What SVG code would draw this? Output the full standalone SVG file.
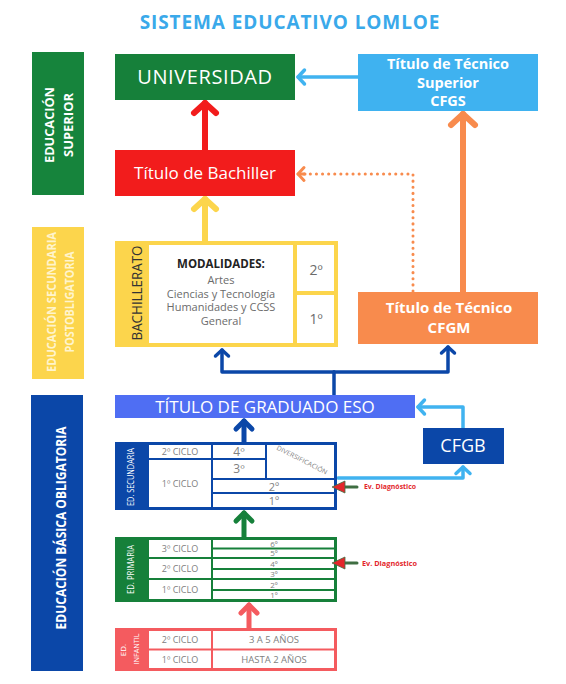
<svg xmlns="http://www.w3.org/2000/svg" width="566" height="684" viewBox="0 0 566 684">
<style>
text { font-family: "Open Sans", "Liberation Sans", Arial, sans-serif; }
.c { text-anchor: middle; }
.b { font-weight: bold; }
.w { fill: #ffffff; }
.gr { fill: #808080; }
.cell { fill: #ffffff; }
.ln { fill: none; stroke-linecap: round; stroke-linejoin: round; }
.ev { fill: #e3262b; font-weight: bold; font-size: 6.5px; }
</style>
<defs>
<marker id="hRed" markerUnits="userSpaceOnUse" markerWidth="40" markerHeight="40" viewBox="-20 -20 40 40" refX="0" refY="0" orient="auto"><path d="M-10,-11 L0,0 L-10,11" fill="none" stroke="#f21c1c" stroke-width="6" stroke-linecap="round" stroke-linejoin="round"/></marker>
<marker id="hYel" markerUnits="userSpaceOnUse" markerWidth="40" markerHeight="40" viewBox="-20 -20 40 40" refX="0" refY="0" orient="auto"><path d="M-10,-11 L0,0 L-10,11" fill="none" stroke="#fcd54c" stroke-width="6" stroke-linecap="round" stroke-linejoin="round"/></marker>
<marker id="hOra" markerUnits="userSpaceOnUse" markerWidth="40" markerHeight="40" viewBox="-20 -20 40 40" refX="0" refY="0" orient="auto"><path d="M-11,-12 L0,0 L-11,12" fill="none" stroke="#f88b4d" stroke-width="6" stroke-linecap="round" stroke-linejoin="round"/></marker>
<marker id="hOraS" markerUnits="userSpaceOnUse" markerWidth="40" markerHeight="40" viewBox="-20 -20 40 40" refX="0" refY="0" orient="auto"><path d="M-6,-6.5 L0,0 L-6,6.5" fill="none" stroke="#f88b4d" stroke-width="3" stroke-linecap="round" stroke-linejoin="round"/></marker>
<marker id="hGrn" markerUnits="userSpaceOnUse" markerWidth="40" markerHeight="40" viewBox="-20 -20 40 40" refX="0" refY="0" orient="auto"><path d="M-8,-8 L0,0 L-8,8" fill="none" stroke="#16803a" stroke-width="5" stroke-linecap="round" stroke-linejoin="round"/></marker>
<marker id="hSal" markerUnits="userSpaceOnUse" markerWidth="40" markerHeight="40" viewBox="-20 -20 40 40" refX="0" refY="0" orient="auto"><path d="M-8,-8 L0,0 L-8,8" fill="none" stroke="#f45b5f" stroke-width="5" stroke-linecap="round" stroke-linejoin="round"/></marker>
<marker id="hBluM" markerUnits="userSpaceOnUse" markerWidth="40" markerHeight="40" viewBox="-20 -20 40 40" refX="0" refY="0" orient="auto"><path d="M-8,-8 L0,0 L-8,8" fill="none" stroke="#0b47a8" stroke-width="5" stroke-linecap="round" stroke-linejoin="round"/></marker>
<marker id="hBlu" markerUnits="userSpaceOnUse" markerWidth="40" markerHeight="40" viewBox="-20 -20 40 40" refX="0" refY="0" orient="auto"><path d="M-6,-6.5 L0,0 L-6,6.5" fill="none" stroke="#0b47a8" stroke-width="3.5" stroke-linecap="round" stroke-linejoin="round"/></marker>
<marker id="hLb" markerUnits="userSpaceOnUse" markerWidth="40" markerHeight="40" viewBox="-20 -20 40 40" refX="0" refY="0" orient="auto"><path d="M-6.5,-7 L0,0 L-6.5,7" fill="none" stroke="#40b3f0" stroke-width="3.5" stroke-linecap="round" stroke-linejoin="round"/></marker>
</defs>
<rect width="566" height="684" fill="#ffffff"/>

<text x="290" y="29" class="c b" font-size="19" letter-spacing="0.9" fill="#3aa9ea">SISTEMA EDUCATIVO LOMLOE</text>

<g id="band-superior">
<rect x="32" y="52" width="52" height="143" fill="#16843c"/>
<text transform="translate(54,125) rotate(-90)" class="c b w" font-size="13" textLength="76" lengthAdjust="spacingAndGlyphs">EDUCACIÓN</text>
<text transform="translate(73,125) rotate(-90)" class="c b w" font-size="13" textLength="64" lengthAdjust="spacingAndGlyphs">SUPERIOR</text>
</g>
<g id="band-postobligatoria">
<rect x="32" y="227" width="52" height="152" fill="#fcd54c"/>
<text transform="translate(56,302) rotate(-90)" class="c b" fill="#fff4cc" font-size="11.5" textLength="140" lengthAdjust="spacingAndGlyphs">EDUCACIÓN SECUNDARIA</text>
<text transform="translate(74,302) rotate(-90)" class="c b" fill="#fff4cc" font-size="11.5" textLength="101" lengthAdjust="spacingAndGlyphs">POSTOBLIGATORIA</text>
</g>
<g id="band-basica">
<rect x="31" y="395" width="52" height="276" fill="#0b47a8"/>
<text transform="translate(66,528) rotate(-90)" class="c b w" font-size="14" textLength="203" lengthAdjust="spacingAndGlyphs">EDUCACIÓN BÁSICA OBLIGATORIA</text>
</g>

<g id="connectors">
<path class="ln" d="M205,150 L205,103" stroke="#f21c1c" stroke-width="6" marker-end="url(#hRed)"/>
<path class="ln" d="M205,241 L205,199" stroke="#fcd54c" stroke-width="6" marker-end="url(#hYel)"/>
<path class="ln" d="M463,292 L463,114" stroke="#f88b4d" stroke-width="6" marker-end="url(#hOra)"/>
<path class="ln" d="M413,291 L413,174 L299,174" stroke="#f88b4d" stroke-width="3" stroke-dasharray="0.1 6"/>
<path class="ln" d="M305,174 L298,174" stroke="#f88b4d" stroke-width="3" marker-end="url(#hOraS)"/>
<path class="ln" d="M358,77 L298,77" stroke="#40b3f0" stroke-width="3.5" marker-end="url(#hLb)"/>
<path class="ln" d="M334,395 L334,372" stroke="#0b47a8" stroke-width="3.5"/>
<path class="ln" d="M334,372 L222,372 L222,350" stroke="#0b47a8" stroke-width="3.5" marker-end="url(#hBlu)"/>
<path class="ln" d="M334,372 L448,372 L448,347" stroke="#0b47a8" stroke-width="3.5" marker-end="url(#hBlu)"/>
<path class="ln" d="M244,442 L244,421" stroke="#0b47a8" stroke-width="5" marker-end="url(#hBluM)"/>
<path class="ln" d="M244,537 L244,513" stroke="#16803a" stroke-width="5" marker-end="url(#hGrn)"/>
<path class="ln" d="M249,628 L249,605" stroke="#f45b5f" stroke-width="5" marker-end="url(#hSal)"/>
<path class="ln" d="M463,428 L463,407 L418,407" stroke="#40b3f0" stroke-width="3.5" marker-end="url(#hLb)"/>
<path class="ln" d="M338,478 L463,478 L463,467" stroke="#40b3f0" stroke-width="3.5" marker-end="url(#hLb)"/>
</g>

<g id="universidad">
<rect x="115" y="54" width="180" height="46" fill="#16803a"/>
<text x="205" y="84" class="c w" font-size="20" letter-spacing="0.6">UNIVERSIDAD</text>
</g>
<g id="cfgs">
<rect x="358" y="54" width="180" height="57" fill="#3fb2f0"/>
<text x="448" y="69" class="c b w" font-size="14.5">Título de Técnico</text>
<text x="448" y="88" class="c b w" font-size="14.5">Superior</text>
<text x="448" y="106" class="c b w" font-size="14.5">CFGS</text>
</g>
<g id="bachiller">
<rect x="115" y="150" width="180" height="46" fill="#f21c1c"/>
<text x="205" y="179" class="c w" font-size="17">Título de Bachiller</text>
</g>
<g id="bachillerato">
<rect x="115" y="241" width="223" height="106" fill="#fcd54c"/>
<rect class="cell" x="149" y="245" width="144" height="98"/>
<rect class="cell" x="297" y="245" width="37" height="46"/>
<rect class="cell" x="297" y="295" width="37" height="48"/>
<text transform="translate(142,293) rotate(-90)" class="c" fill="#333333" font-size="15" textLength="95" lengthAdjust="spacingAndGlyphs">BACHILLERATO</text>
<text x="221" y="268" class="c b" fill="#222222" font-size="11.5">MODALIDADES:</text>
<text x="221" y="284" class="c" fill="#6b6b6b" font-size="11">Artes</text>
<text x="221" y="297.5" class="c" fill="#6b6b6b" font-size="11">Ciencias y Tecnología</text>
<text x="221" y="311" class="c" fill="#6b6b6b" font-size="11">Humanidades y CCSS</text>
<text x="221" y="324.5" class="c" fill="#6b6b6b" font-size="11">General</text>
<text x="316" y="275" class="c" fill="#6b6b6b" font-size="14">2º</text>
<text x="316" y="324" class="c" fill="#6b6b6b" font-size="14">1º</text>
</g>
<g id="cfgm">
<rect x="358" y="292" width="180" height="52" fill="#f88b4d"/>
<text x="449" y="313" class="c b w" font-size="15">Título de Técnico</text>
<text x="449" y="333" class="c b w" font-size="15">CFGM</text>
</g>
<g id="graduado-eso">
<rect x="115" y="395" width="300" height="23" fill="#4f6ef3"/>
<text x="265" y="412.5" class="c w" font-size="17">TÍTULO DE GRADUADO ESO</text>
</g>
<g id="cfgb">
<rect x="423" y="428" width="81" height="36" fill="#0b47a8"/>
<text x="463" y="452" class="c w" font-size="18">CFGB</text>
</g>

<g id="ed-secundaria">
<rect x="115" y="442" width="222" height="68" fill="#0b47a8"/>
<rect class="cell" x="149" y="445" width="62" height="13"/>
<rect class="cell" x="149" y="460" width="62" height="47"/>
<rect class="cell" x="213" y="445" width="52" height="13"/>
<rect class="cell" x="213" y="460" width="52" height="18"/>
<rect class="cell" x="267" y="445" width="67" height="33"/>
<rect class="cell" x="213" y="480" width="121" height="12"/>
<rect class="cell" x="213" y="494" width="121" height="13"/>
<text transform="translate(134,477) rotate(-90)" class="c w" font-size="9" textLength="58" lengthAdjust="spacingAndGlyphs">ED. SECUNDARIA</text>
<text x="180" y="454.5" class="c gr" font-size="9">2º CICLO</text>
<text x="180" y="487" class="c gr" font-size="9">1º CICLO</text>
<text x="239" y="455.5" class="c gr" font-size="12">4º</text>
<text x="239" y="473" class="c gr" font-size="12">3º</text>
<text transform="translate(301,462) rotate(27)" class="c gr" font-size="6.5" textLength="56" lengthAdjust="spacingAndGlyphs">DIVERSIFICACIÓN</text>
<text x="274" y="490.5" class="c gr" font-size="11">2º</text>
<text x="274" y="504.5" class="c gr" font-size="11">1º</text>
</g>
<g id="ev-diagnostico-secundaria">
<path d="M343,487 L357,487" stroke="#3f6e42" stroke-width="3" stroke-linecap="round"/>
<path d="M332,487 L345,481 L345,493 Z" fill="#e3262b" stroke="#3f6e42" stroke-width="0.8"/>
<text x="364" y="489" class="ev" textLength="52" lengthAdjust="spacingAndGlyphs">Ev. Diagnóstico</text>
</g>

<g id="ed-primaria">
<rect x="115" y="537" width="222" height="65" fill="#16803a"/>
<rect class="cell" x="149" y="540" width="62" height="17"/>
<rect class="cell" x="149" y="559" width="62" height="19"/>
<rect class="cell" x="149" y="580" width="62" height="19"/>
<rect class="cell" x="213" y="540" width="121" height="7.5"/>
<rect class="cell" x="213" y="549.5" width="121" height="7.5"/>
<rect class="cell" x="213" y="559" width="121" height="9"/>
<rect class="cell" x="213" y="570" width="121" height="8"/>
<rect class="cell" x="213" y="580" width="121" height="9"/>
<rect class="cell" x="213" y="591" width="121" height="8"/>
<text transform="translate(134,569.5) rotate(-90)" class="c w" font-size="9" textLength="49" lengthAdjust="spacingAndGlyphs">ED. PRIMARIA</text>
<text x="180" y="551.5" class="c gr" font-size="9">3º CICLO</text>
<text x="180" y="571.5" class="c gr" font-size="9">2º CICLO</text>
<text x="180" y="592.5" class="c gr" font-size="9">1º CICLO</text>
<text x="274" y="546.5" class="c gr" font-size="8">6º</text>
<text x="274" y="556" class="c gr" font-size="8">5º</text>
<text x="274" y="566.5" class="c gr" font-size="8">4º</text>
<text x="274" y="577" class="c gr" font-size="8">3º</text>
<text x="274" y="587.5" class="c gr" font-size="8">2º</text>
<text x="274" y="598" class="c gr" font-size="8">1º</text>
</g>
<g id="ev-diagnostico-primaria">
<path d="M343,563 L357,563" stroke="#3f6e42" stroke-width="3" stroke-linecap="round"/>
<path d="M332,563 L345,557 L345,569 Z" fill="#e3262b" stroke="#3f6e42" stroke-width="0.8"/>
<text x="362" y="565.5" class="ev" textLength="55" lengthAdjust="spacingAndGlyphs">Ev. Diagnóstico</text>
</g>

<g id="ed-infantil">
<rect x="115" y="628" width="222" height="43" fill="#f45b5f"/>
<rect class="cell" x="149" y="631" width="62" height="17.5"/>
<rect class="cell" x="149" y="650.5" width="62" height="17.5"/>
<rect class="cell" x="213" y="631" width="121" height="17.5"/>
<rect class="cell" x="213" y="650.5" width="121" height="17.5"/>
<text transform="translate(126,650) rotate(-90)" class="c w" font-size="8">ED.</text>
<text transform="translate(139,649) rotate(-90)" class="c w" font-size="8" textLength="31" lengthAdjust="spacingAndGlyphs">INFANTIL</text>
<text x="180" y="643" class="c gr" font-size="9">2º CICLO</text>
<text x="180" y="662.5" class="c gr" font-size="9">1º CICLO</text>
<text x="274" y="643" class="c gr" font-size="9.5">3 A 5 AÑOS</text>
<text x="274" y="662.5" class="c gr" font-size="9.5">HASTA 2 AÑOS</text>
</g>
</svg>
